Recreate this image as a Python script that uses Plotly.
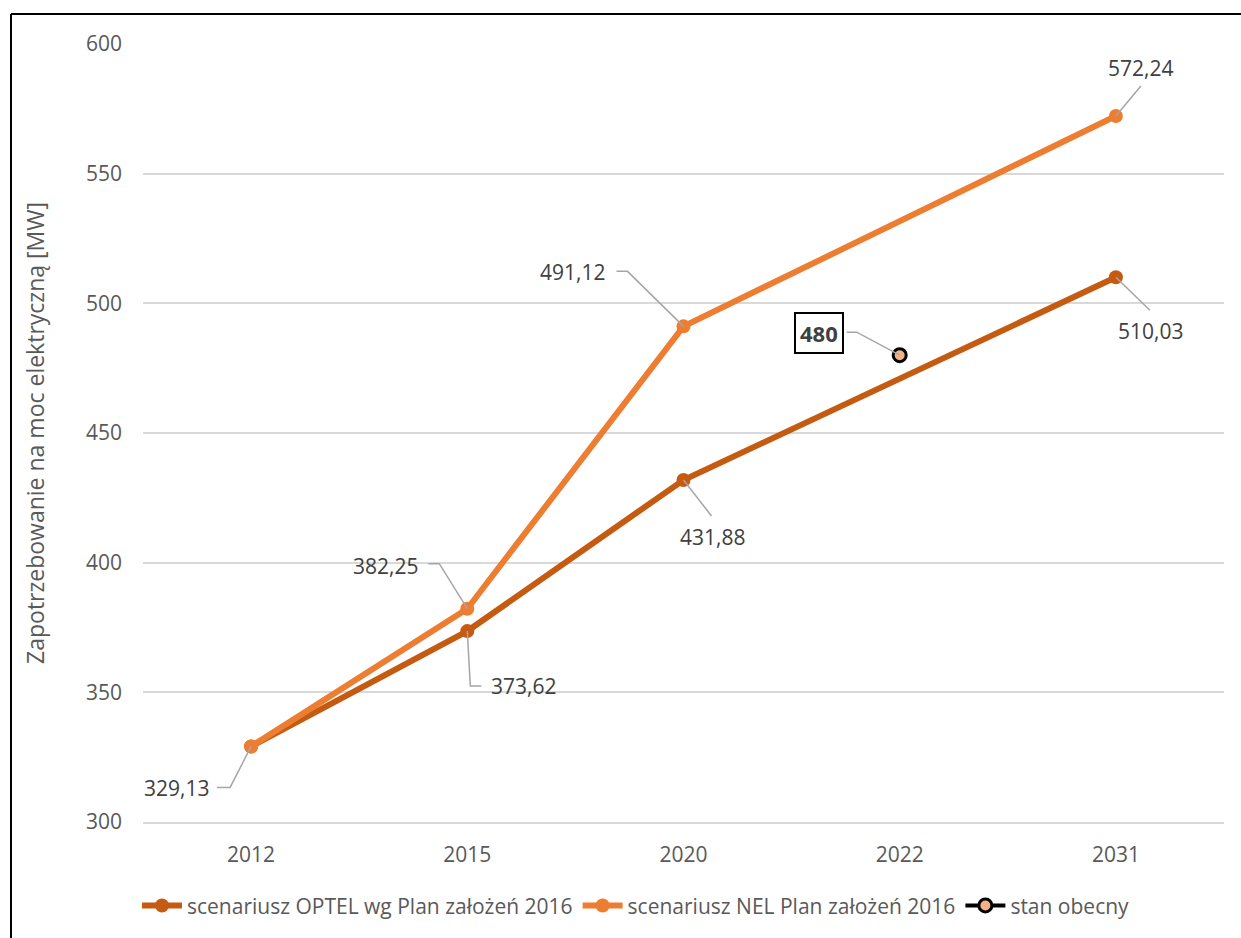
import plotly.graph_objects as go

# ---------------- data ----------------
years = ["2012", "2015", "2020", "2022", "2031"]
optel = [329.13, 373.62, 431.88, None, 510.03]
nel = [329.13, 382.25, 491.12, None, 572.24]
stan = [None, None, None, 480, None]
y_ticks = [300, 350, 400, 450, 500, 550, 600]

names = ["scenariusz OPTEL wg Plan założeń 2016", "scenariusz NEL Plan założeń 2016", "stan obecny"]
y_title = "Zapotrzebowanie na moc elektryczną [MW]"

# label placement (pixel offsets, screen coords, y down) and leader polylines
label_specs = [
    (optel, 0, -75, 42, [(0, 0), (-21, 41), (-34, 41)]),
    (nel, 1, -82, -43, [(0, 0), (-28, -45), (-39, -45)]),
    (optel, 1, 56, 55, [(0, 0), (3, 55), (14, 55)]),
    (nel, 2, -111, -54, [(0, 0), (-56, -55), (-67, -55)]),
    (optel, 2, 29, 57, [(0, 0), (28, 36)]),
    (nel, 4, 25, -48, [(0, 0), (25, -30)]),
    (optel, 4, 35, 54, [(0, 0), (34, 33)]),
]

FONT = "Open Sans"
GRAY = "#595959"
LABEL = "#404040"
C_OPTEL = "#C55A11"
C_NEL = "#ED7D31"

fig = go.Figure()
fig.add_trace(go.Scatter(
    x=years, y=optel, name=names[0], mode="lines+markers", connectgaps=True,
    line=dict(color=C_OPTEL, width=6), marker=dict(color=C_OPTEL, size=14),
))
fig.add_trace(go.Scatter(
    x=years, y=nel, name=names[1], mode="lines+markers", connectgaps=True,
    line=dict(color=C_NEL, width=6), marker=dict(color=C_NEL, size=14),
))
fig.add_trace(go.Scatter(
    x=years, y=stan, name=names[2], mode="lines+markers",
    line=dict(color="black", width=4),
    marker=dict(color="#F4B183", size=13, line=dict(color="black", width=3)),
))

annotations = []
shapes = []
for series, i, dx, dy, pts in label_specs:
    v = series[i]
    annotations.append(dict(
        x=i, y=v, xref="x", yref="y", showarrow=False,
        text=f"{v:.2f}".replace(".", ","), xshift=dx, yshift=-dy,
        font=dict(family=FONT, size=21, color=LABEL),
    ))
    path = "M" + " L".join(f"{px},{-py}" for px, py in pts)
    shapes.append(dict(
        type="path", xref="x", yref="y", xsizemode="pixel", ysizemode="pixel",
        xanchor=i, yanchor=v, path=path,
        line=dict(color="#A6A6A6", width=1.5),
    ))

# boxed label for current state
si = 3
annotations.append(dict(
    x=si, y=stan[si], xref="x", yref="y", showarrow=False,
    text=f"<b>{stan[si]}</b>", xshift=-81, yshift=22,
    font=dict(family=FONT, size=22, color=LABEL),
    bgcolor="white", bordercolor="black", borderwidth=2, borderpad=4,
))
shapes.append(dict(
    type="path", xref="x", yref="y", xsizemode="pixel", ysizemode="pixel",
    xanchor=si, yanchor=stan[si], path="M0,0 L-43,23 L-53,23",
    line=dict(color="#A6A6A6", width=1.5),
))

# outer chart border (top and left edges visible)
L, R, T, B = 143, 17, 44, 114
W, H = 1241, 938
pw, ph = W - L - R, H - T - B
bx = (11 - L) / pw
by = (ph + T - 14) / ph
shapes.append(dict(type="line", xref="paper", yref="paper", x0=bx, x1=(W + 20 - L) / pw,
                   y0=by, y1=by, line=dict(color="black", width=2)))
shapes.append(dict(type="line", xref="paper", yref="paper", x0=bx, x1=bx,
                   y0=by, y1=-(B + 20) / ph, line=dict(color="black", width=2)))

fig.update_layout(
    width=W, height=H,
    margin=dict(l=L, r=R, t=T, b=B),
    paper_bgcolor="white", plot_bgcolor="white",
    font=dict(family=FONT, color=GRAY),
    showlegend=True,
    legend=dict(
        orientation="h", x=(636 - L) / pw, xanchor="center",
        y=-(908 - (T + ph)) / ph, yanchor="middle",
        font=dict(family=FONT, size=21, color=GRAY),
        traceorder="normal", itemwidth=40,
    ),
    annotations=annotations,
    shapes=shapes,
    xaxis=dict(
        type="category", categoryorder="array", categoryarray=years,
        range=[-0.5, 4.5], showgrid=False, zeroline=False,
        showline=True, linecolor="#D9D9D9", linewidth=1.5,
        tickfont=dict(family=FONT, size=21, color=GRAY),
        ticks="", ticklabelstandoff=13, automargin=False,
    ),
    yaxis=dict(
        range=[300, 600], tickvals=y_ticks, showgrid=True, gridcolor="#D9D9D9",
        gridwidth=1.5, zeroline=False, showline=False, ticks="",
        tickfont=dict(family=FONT, size=21, color=GRAY),
        ticklabelstandoff=20, automargin=False,
        title=dict(text=y_title, font=dict(family=FONT, size=23, color=GRAY), standoff=34),
    ),
)

fig.write_html("out.html", config={"displayModeBar": False},
               post_script="document.body.style.margin='0';")
